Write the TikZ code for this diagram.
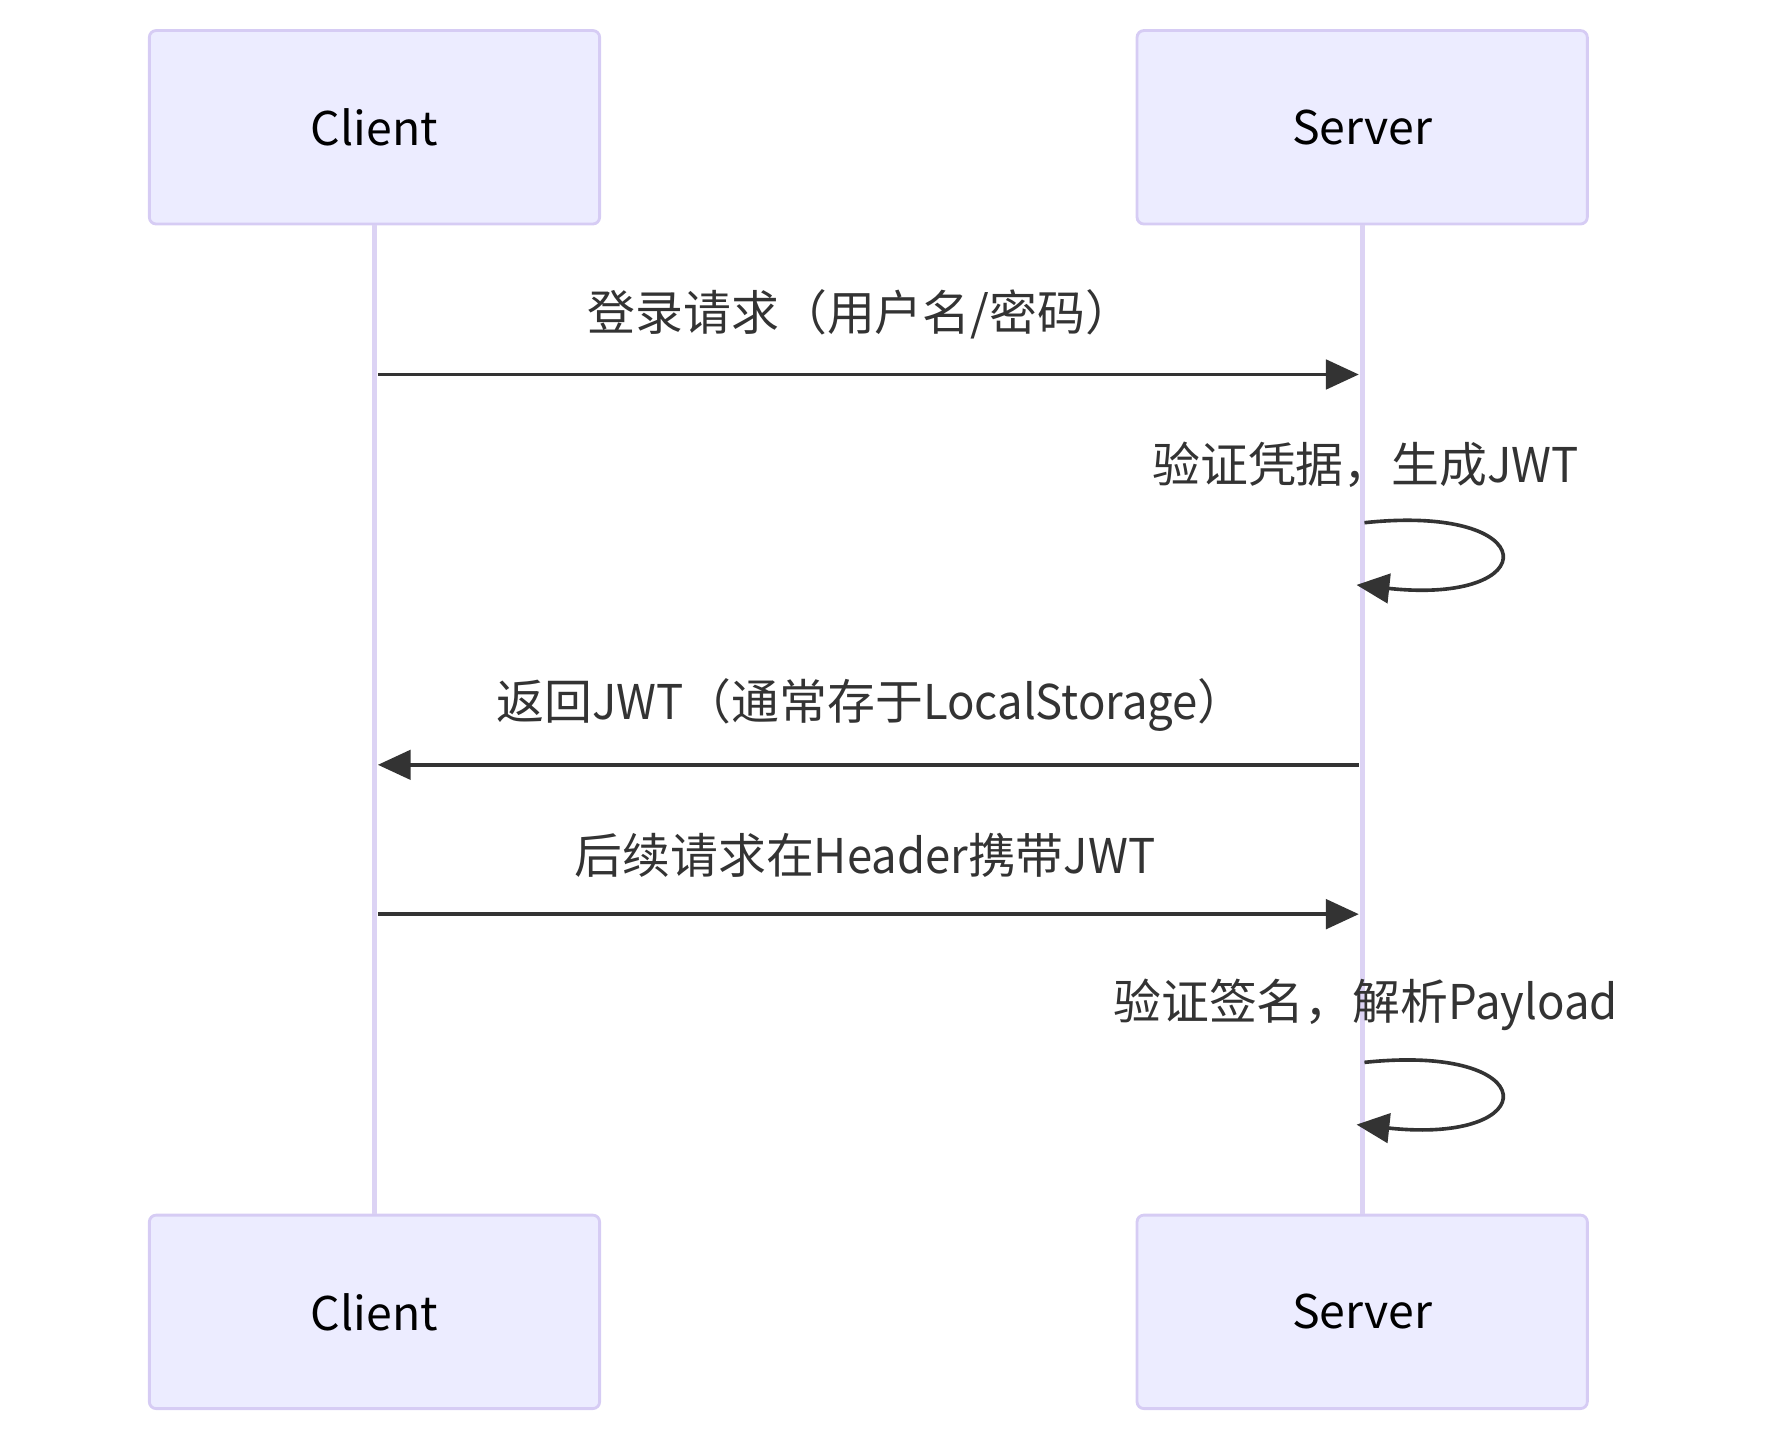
\documentclass[tikz,border=0pt]{standalone}
\usepackage{fontspec}
\setmainfont{Noto Sans CJK SC}
\newfontfamily\narrowlatin[FakeStretch=0.95]{Noto Sans CJK SC}
\newcommand{\lat}[1]{{\narrowlatin #1}}
\usetikzlibrary{arrows.meta}
\definecolor{actfill}{HTML}{ECECFF}
\definecolor{actline}{HTML}{D6CCF4}
\definecolor{lifecol}{HTML}{DCD3F4}
\definecolor{msgcol}{HTML}{333333}
\begin{document}
\begin{tikzpicture}[x=1pt,y=-1pt,
  actor/.style={draw=actline, fill=actfill, line width=2.5pt, rounded corners=6pt,
    minimum width=398pt, minimum height=171pt, inner sep=0pt,
    font=\fontsize{41}{48}\selectfont, text=black},
  msgtext/.style={font=\fontsize{42.3}{50}\selectfont, text=msgcol, inner sep=0pt},
  msgarrow/.style={draw=msgcol, line width=3.2pt, -{Triangle[length=29pt,width=26pt]}},
  lifel/.style={draw=lifecol, line width=4.5pt}]
\useasboundingbox (0,0) rectangle (1568,1275.4);
% actors
\node[actor] (ct) at (331,112.5) {Client};
\node[actor] (st) at (1204,112.5) {Server};
\node[actor] (cb) at (331,1159.5) {Client};
\node[actor] (sb) at (1204,1159.5) {Server};
% lifelines
\draw[lifel] (ct.south) -- (cb.north);
\draw[lifel] (st.south) -- (sb.north);
% anchor points on the lifelines
\coordinate (c1) at (334,331);
\coordinate (s1) at (1201,331);
\coordinate (la) at (1206,462);
\coordinate (lb) at (1199,517);
\coordinate (s3) at (1201,676);
\coordinate (c3) at (334,676);
\coordinate (c4) at (334,808);
\coordinate (s4) at (1201,808);
\coordinate (ma) at (1206,939);
\coordinate (mb) at (1199,994);
% messages
\node[msgtext] (t1) at (760.5,278) {登录请求（用户名/密码）};
\draw[msgarrow] (c1) -- (s1);
\node[msgtext] (t2) at (1207,411) {验证凭据，生成\lat{JWT}};
\draw[msgarrow] (la) .. controls (1366,445) and (1366,535) .. (lb);
\node[msgtext] (t3) at (770,623) {返回\lat{JWT}（通常存于\lat{LocalStorage}）};
\draw[msgarrow] (s3) -- (c3);
\node[msgtext] (t4) at (764.5,756) {后续请求在\lat{Header}携带\lat{JWT}};
\draw[msgarrow] (c4) -- (s4);
\node[msgtext] (t5) at (1207,888) {验证签名，解析\lat{Payload}};
\draw[msgarrow] (ma) .. controls (1366,922) and (1366,1012) .. (mb);
\end{tikzpicture}
\end{document}
